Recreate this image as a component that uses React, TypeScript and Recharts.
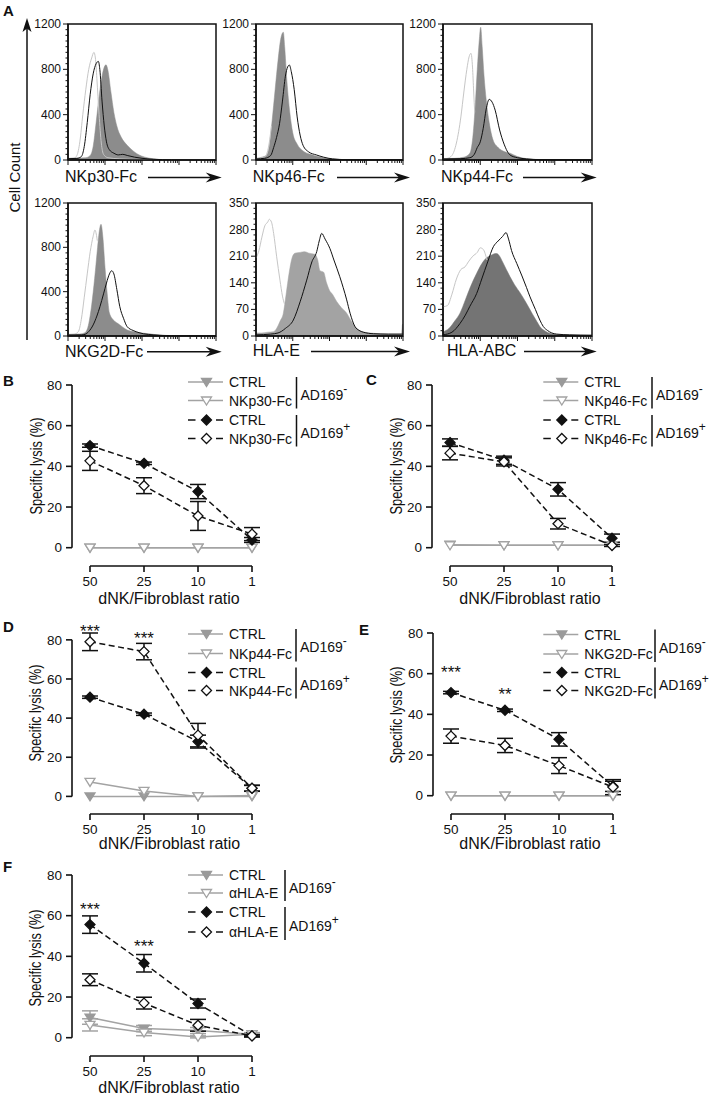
import React from 'react';
import {
  ComposedChart,
  LineChart,
  Line,
  Area,
  XAxis,
  YAxis,
  ErrorBar,
  ReferenceLine,
  ReferenceArea,
  ReferenceDot,
} from 'recharts';

const FONT = "'Liberation Sans', Arial, Helvetica, sans-serif";
const INK = '#111';
const GRAY = '#a3a3a3';
const GRAY_FILL = '#9a9a9a';
const LIGHT = '#c6c6c6';

// ---------- Panel A: histograms (x = % of a 4-decade log axis, y = cell count) ----------
const nkp30Light = [[0, 12], [4, 15], [6, 40], [8, 160], [10, 400], [12, 620], [14, 800], [16, 900], [17.5, 950], [18.5, 900], [19.5, 720], [21, 400], [22.5, 150], [24, 50], [27, 20], [35, 10], [50, 4], [100, 2]];
const nkp30Fill = [[0, 15], [6, 18], [12, 20], [15, 40], [17, 120], [19, 330], [21, 560], [23, 740], [24.5, 820], [25.7, 840], [27, 790], [29, 600], [31, 420], [33, 300], [36, 200], [40, 130], [44, 80], [48, 45], [52, 25], [58, 10], [65, 3], [80, 2], [100, 2]];
const nkp30Black = [[0, 12], [6, 14], [9, 30], [11, 120], [13, 330], [15, 580], [17, 760], [19, 850], [20.5, 870], [21.5, 800], [23, 520], [24.5, 300], [26, 160], [28, 90], [31, 60], [34, 45], [37, 50], [40, 40], [45, 25], [50, 15], [58, 6], [70, 2], [100, 1]];

const nkp46Light = [[0, 12], [5, 20], [7, 45], [9, 150], [10.5, 300]];
const nkp46Fill = [[0, 15], [4, 25], [7, 40], [9, 120], [11, 350], [13, 620], [15, 880], [17, 1080], [18.6, 1127], [19.5, 1000], [21, 700], [23, 420], [25, 240], [28, 140], [32, 80], [37, 50], [42, 30], [48, 15], [55, 6], [65, 2], [100, 1]];
const nkp46Black = [[0, 10], [6, 15], [10, 40], [12, 110], [14, 200], [16, 320], [18, 520], [20, 740], [21.5, 820], [22.7, 838], [24, 780], [26, 620], [28, 380], [30, 220], [32, 130], [36, 70], [41, 45], [46, 25], [52, 10], [62, 3], [100, 1]];

const nkp44Light = [[0, 10], [3, 15], [6, 40], [9, 150], [12, 380], [14, 600], [16, 800], [17.5, 910], [18.8, 941], [19.8, 820], [20.6, 600], [21.3, 420]];
const nkp44Fill = [[0, 12], [8, 15], [14, 25], [18, 60], [20, 200], [21.5, 450], [23, 800], [24.3, 1050], [25.3, 1171], [26.3, 1000], [27.5, 750], [29, 530], [31, 330], [33.6, 176], [37, 110], [41, 75], [45, 60], [50, 30], [56, 12], [65, 4], [100, 2]];
const nkp44Black = [[0, 10], [12, 12], [18, 20], [21, 50], [23, 110], [25, 160], [27, 280], [29, 450], [31, 535], [33, 510], [35, 440], [38, 265], [41, 140], [45, 44], [50, 20], [56, 10], [65, 3], [100, 1]];

const nkg2dLight = [[0, 12], [4, 15], [7, 40], [9, 150], [11, 350], [13, 560], [15, 760], [17, 900], [18.2, 956], [19.1, 920], [19.8, 860]];
const nkg2dFill = [[0, 15], [8, 18], [11.5, 30], [14, 110], [16, 280], [18, 520], [20, 800], [21.3, 960], [22.3, 1008], [23.5, 900], [25, 620], [26.5, 380], [28, 207], [31, 140], [34, 110], [37, 80], [40, 54], [44, 40], [48, 30], [55, 20], [62, 8], [75, 3], [100, 2]];
const nkg2dBlack = [[0, 10], [9, 10], [11.5, 15], [14, 40], [17, 100], [19.5, 180], [21.6, 265], [24, 380], [26, 478], [28, 560], [29.5, 589], [31, 560], [33, 420], [35, 265], [37.5, 160], [40, 84], [44, 50], [48, 30], [51, 20], [58, 10], [70, 3], [100, 1]];

const hlaELight = [[0, 205], [2, 225], [4, 260], [6, 290], [8, 300], [9, 307], [10.5, 300], [12, 270], [14, 210], [16.3, 147], [18, 105], [19.3, 85]];
const hlaEFill = [[0, 8], [4, 8], [8, 10], [11.8, 11], [14, 20], [16.5, 40], [18.6, 60], [20.5, 110], [22.5, 165], [24.5, 205], [26.5, 218], [30, 220], [33, 222], [36, 218], [40, 215], [42, 200], [43.5, 172], [46, 168], [48, 140], [50, 120], [52, 110], [55, 90], [58, 75], [61.7, 60], [65, 38], [68.5, 20], [72, 12], [77.5, 8], [85, 6], [95, 5], [99, 5], [99.6, 30], [100, 32]];
const hlaEBlack = [[0, 3], [10, 5], [15, 8], [20, 20], [25.4, 42], [30, 90], [34.5, 147], [38, 195], [41.3, 222], [43, 250], [44.7, 270], [47, 255], [50.3, 230], [53, 200], [57, 156], [61.7, 95], [64, 60], [67.3, 25], [70, 15], [73, 10], [80, 6], [90, 5], [100, 5]];

const hlaAbcLight = [[0, 77], [3, 80], [6, 110], [9, 150], [12, 175], [14.8, 182], [17, 195], [20, 210], [23, 220], [25, 232], [27, 228], [29.5, 200]];
const hlaAbcFill = [[0, 11], [4, 20], [8, 40], [11.4, 60], [15, 95], [18.5, 130], [22.6, 165], [26, 190], [29, 205], [32, 212], [34, 216], [36, 217], [38, 210], [40, 195], [42.5, 175], [45, 156], [48, 135], [52, 112], [56, 86], [60, 58], [63, 38], [65, 25], [69, 12], [74, 5], [80, 3], [100, 2]];
const hlaAbcBlack = [[0, 3], [6, 10], [11.4, 33], [15, 55], [18, 78], [22.6, 112], [26, 150], [30, 195], [33.8, 235], [37, 250], [40, 262], [42.3, 272], [44, 255], [46, 225], [49.5, 191], [53, 158], [56, 128], [58.4, 103], [62, 70], [65, 42], [67.3, 25], [70, 15], [73, 8], [76.3, 5], [85, 3], [100, 2]];

// ---------- Panels B-F: specific lysis (%) ----------
const RATIOS = ['50', '25', '10', '1'];

const bCtrlNeg = [0, 0, 0, 0];
const bFcNeg = [0, 0, 0, 0];
const bCtrlPos = [50.2, 41.5, 27.6, 3.8];
const bCtrlPosErr = [0.8, 0.6, 3.5, 1.2];
const bFcPos = [42.7, 30.5, 15.6, 6.7];
const bFcPosErr = [4.7, 3.9, 7.1, 3.2];

const cCtrlNeg = [1.5, 1.2, 1.2, 1.2];
const cFcNeg = [1.2, 1.2, 1.2, 1.2];
const cCtrlPos = [51.7, 43, 28.7, 4.7];
const cCtrlPosErr = [1.8, 2, 3.3, 2];
const cFcPos = [46.5, 42.2, 11.8, 1.1];
const cFcPosErr = [3.3, 2, 2.6, 0.5];

const dCtrlNeg = [0, 0, 0, 0];
const dFcNeg = [7.4, 2.8, 0, 0.5];
const dCtrlPos = [50.7, 42, 28, 4.1];
const dCtrlPosErr = [0.6, 0.6, 3.3, 1.5];
const dFcPos = [79, 74, 31.3, 4.2];
const dFcPosErr = [4.5, 4.2, 6, 1.5];
const dStars = [{ i: 0, y: 86.4, t: '***' }, { i: 1, y: 83.1, t: '***' }];

const eCtrlNeg = [0, 0, 0, 0];
const eFcNeg = [0, 0, 0, 0];
const eCtrlPos = [50.7, 42, 27.7, 4.6];
const eCtrlPosErr = [0.6, 0.6, 3.3, 2.5];
const eFcPos = [29.3, 24.7, 14.8, 4.2];
const eFcPosErr = [3.5, 3.5, 3.9, 3.7];
const eStars = [{ i: 0, y: 62.6, t: '***' }, { i: 1, y: 51.9, t: '**' }];

const fCtrlNeg = [9.9, 4.5, 3.5, 1.7];
const fCtrlNegErr = [3.3, 1.5, 1.5, 0.8];
const fFcNeg = [6.3, 2.5, 0.4, 1.7];
const fFcNegErr = [3, 1.5, 0.5, 0.5];
const fCtrlPos = [55.6, 36.6, 16.8, 0.9];
const fCtrlPosErr = [4.3, 4.3, 2.2, 0.5];
const fFcPos = [28.5, 17, 6.1, 0.9];
const fFcPosErr = [2.9, 2.9, 2.9, 0.5];
const fStars = [{ i: 0, y: 65.2, t: '***' }, { i: 1, y: 47, t: '***' }];

// ---------- helpers ----------
type P = number[];
function histRows(light: P[], fill: P[], black: P[]) {
  const map = new Map<number, any>();
  const add = (arr: P[], key: string) =>
    arr.forEach(([x, y]) => {
      const r = map.get(x) ?? { x };
      r[key] = y;
      map.set(x, r);
    });
  add(light, 'light');
  add(fill, 'fill');
  add(black, 'black');
  return Array.from(map.values()).sort((a, b) => a.x - b.x);
}

const LOG_DECADES = [0, 25, 50, 75, 100];
const LOG_TICKS = [
  ...LOG_DECADES,
  ...[0, 1, 2, 3].flatMap((d) => [2, 3, 4, 5, 6, 7, 8, 9].map((k) => 25 * (d + Math.log10(k)))),
].sort((a, b) => a - b);

const xLogTick = (p: any) => {
  const v = p.payload.value;
  const major = LOG_DECADES.some((d) => Math.abs(d - v) < 1e-6);
  return (
    <line key={`xt${v}`} x1={p.x} x2={p.x} y1={p.y} y2={p.y + (major ? 5 : 3)} stroke={INK} strokeWidth={1} />
  );
};

const yCountTick = (majorStep: number) => (p: any) => {
  const v = p.payload.value;
  const major = Math.abs(v / majorStep - Math.round(v / majorStep)) < 1e-6;
  return (
    <g key={`yt${v}`}>
      <line x1={p.x - (major ? 5 : 2.5)} x2={p.x} y1={p.y} y2={p.y} stroke={INK} strokeWidth={1} />
      {major && (
        <text x={p.x - 7} y={p.y} textAnchor="end" dominantBaseline="central" fontSize={12} fill={INK} fontFamily={FONT}>
          {v}
        </text>
      )}
    </g>
  );
};

function Histogram(props: any) {
  const { plotLeft, plotTop, plotW, plotH, yMax, majorStep, minorStep, light, fill, black, fillColor } = props;
  const ML = 48, MT = 12, MR = 12, MB = 14;
  const rows = histRows(light, fill, black);
  const yTicks: number[] = [];
  for (let v = 0; v <= yMax + 1e-9; v += minorStep) yTicks.push(Math.round(v * 100) / 100);
  return (
    <div style={{ position: 'absolute', left: plotLeft - ML, top: plotTop - MT }}>
      <ComposedChart width={plotW + ML + MR} height={plotH + MT + MB} data={rows} margin={{ top: MT, right: MR, bottom: 0, left: 0 }}>
        <XAxis type="number" dataKey="x" domain={[0, 100]} ticks={LOG_TICKS} tick={xLogTick} tickLine={false} tickSize={0} tickMargin={0} interval={0} height={MB} axisLine={{ stroke: INK, strokeWidth: 1.5 }} />
        <YAxis type="number" domain={[0, yMax]} ticks={yTicks} tick={yCountTick(majorStep)} tickLine={false} tickSize={0} tickMargin={0} interval={0} width={ML} axisLine={{ stroke: INK, strokeWidth: 1.5 }} />
        <Line type="monotone" dataKey="light" stroke={LIGHT} strokeWidth={1} dot={false} activeDot={false} connectNulls isAnimationActive={false} />
        <Area type="monotone" dataKey="fill" stroke={fillColor} strokeWidth={0.5} fill={fillColor} fillOpacity={1} dot={false} activeDot={false} connectNulls isAnimationActive={false} />
        <Line type="monotone" dataKey="black" stroke={INK} strokeWidth={1} dot={false} activeDot={false} connectNulls isAnimationActive={false} />
        <ReferenceArea x1={0} x2={100} y1={0} y2={yMax} fill="none" fillOpacity={0} stroke={INK} strokeWidth={1.5} ifOverflow="visible" />
      </ComposedChart>
    </div>
  );
}

// markers
const triPath = (cx: number, cy: number) => `M${cx - 5},${cy - 3.5}L${cx + 5},${cy - 3.5}L${cx},${cy + 4.5}Z`;
const diaPath = (cx: number, cy: number) => `M${cx},${cy - 5}L${cx + 5},${cy}L${cx},${cy + 5}L${cx - 5},${cy}Z`;

const makeDot = (kind: 'tri' | 'dia', fill: string, stroke: string) => (p: any) => {
  if (p.cx == null || p.cy == null || p.value == null) return <g key={`e${kind}${fill}${p.index}`} />;
  const d = kind === 'tri' ? triPath(p.cx, p.cy) : diaPath(p.cx, p.cy);
  return <path key={`m${kind}${fill}${p.index}`} d={d} fill={fill} stroke={stroke} strokeWidth={1.3} />;
};

const starShape = (t: string) => (p: any) => (
  <text x={p.cx} y={p.cy + 10} textAnchor="middle" fontSize={17} fill={INK} fontFamily={FONT}>
    {t}
  </text>
);

function LysisPanel(props: any) {
  const { left, top, ctrlNeg, ctrlNegErr, fcNeg, fcNegErr, ctrlPos, ctrlPosErr, fcPos, fcPosErr, stars } = props;
  const rows = RATIOS.map((_, i) => ({
    i,
    ctrlNeg: ctrlNeg[i],
    ctrlNegErr: ctrlNegErr ? ctrlNegErr[i] : 0,
    fcNeg: fcNeg[i],
    fcNegErr: fcNegErr ? fcNegErr[i] : 0,
    ctrlPos: ctrlPos[i],
    ctrlPosErr: ctrlPosErr[i],
    fcPos: fcPos[i],
    fcPosErr: fcPosErr[i],
  }));
  const axisStroke = { stroke: INK, strokeWidth: 1.6 };
  const tickStyle = { fontSize: 13.5, fill: INK, fontFamily: FONT };
  return (
    <div style={{ position: 'absolute', left, top }}>
      <LineChart width={360} height={221} data={rows} margin={{ top: 15, right: 108, bottom: 0, left: 12 }}>
        <XAxis type="number" dataKey="i" domain={[-1 / 3, 3]} ticks={[0, 1, 2, 3]} tickFormatter={(v: number) => RATIOS[v]} axisLine={false} tickLine={axisStroke} tickSize={6} tickMargin={4} height={25} tick={tickStyle} interval={0} />
        <YAxis type="number" domain={[-9, 80]} ticks={[0, 20, 40, 60, 80]} axisLine={false} tickLine={axisStroke} tickSize={6} tickMargin={4} width={60} tick={tickStyle} interval={0} />
        <ReferenceLine segment={[{ x: -1 / 3, y: 0 }, { x: -1 / 3, y: 80 }]} stroke={INK} strokeWidth={1.6} ifOverflow="visible" />
        <ReferenceLine segment={[{ x: 0, y: -9 }, { x: 3, y: -9 }]} stroke={INK} strokeWidth={1.6} ifOverflow="visible" />
        <Line type="linear" dataKey="ctrlNeg" stroke={GRAY} strokeWidth={1.5} dot={makeDot('tri', GRAY_FILL, GRAY_FILL)} activeDot={false} isAnimationActive={false}>
          {ctrlNegErr && <ErrorBar dataKey="ctrlNegErr" width={8} stroke={GRAY} strokeWidth={1.5} direction="y" />}
        </Line>
        <Line type="linear" dataKey="fcNeg" stroke={GRAY} strokeWidth={1.5} dot={makeDot('tri', '#fff', GRAY)} activeDot={false} isAnimationActive={false}>
          {fcNegErr && <ErrorBar dataKey="fcNegErr" width={8} stroke={GRAY} strokeWidth={1.5} direction="y" />}
        </Line>
        <Line type="linear" dataKey="ctrlPos" stroke={INK} strokeWidth={1.5} strokeDasharray="6 3.5" dot={makeDot('dia', INK, INK)} activeDot={false} isAnimationActive={false}>
          <ErrorBar dataKey="ctrlPosErr" width={8} stroke={INK} strokeWidth={1.5} direction="y" />
        </Line>
        <Line type="linear" dataKey="fcPos" stroke={INK} strokeWidth={1.5} strokeDasharray="6 3.5" dot={makeDot('dia', '#fff', INK)} activeDot={false} isAnimationActive={false}>
          <ErrorBar dataKey="fcPosErr" width={8} stroke={INK} strokeWidth={1.5} direction="y" />
        </Line>
        {(stars || []).map((s: any) => (
          <ReferenceDot key={`s${s.i}`} x={s.i} y={s.y} r={0} ifOverflow="visible" shape={starShape(s.t)} />
        ))}
      </LineChart>
    </div>
  );
}

// ---------- overlay pieces ----------
function Arrow({ x1, x2, y }: { x1: number; x2: number; y: number }) {
  return (
    <g>
      <line x1={x1} x2={x2 - 10} y1={y} y2={y} stroke={INK} strokeWidth={1.5} />
      <path d={`M${x2},${y}L${x2 - 16},${y - 5}L${x2 - 11},${y}L${x2 - 16},${y + 5}Z`} fill={INK} />
    </g>
  );
}

function Legend({ x0, rows, fc, barX }: { x0: number; rows: number[]; fc: string; barX: number }) {
  const [r1, r2, r3, r4] = rows;
  const mx = x0 + 18.5;
  const tx = x0 + 41;
  const dash = (y: number) => (
    <g>
      <line x1={x0} x2={x0 + 7.5} y1={y} y2={y} stroke={INK} strokeWidth={1.5} />
      <line x1={x0 + 28} x2={x0 + 35} y1={y} y2={y} stroke={INK} strokeWidth={1.5} />
    </g>
  );
  const b1 = [r1 - 5, r2 + 8];
  const b2 = [r3 - 5, r4 + 8];
  return (
    <g fontFamily={FONT} fontSize={14} fill={INK}>
      <line x1={x0} x2={x0 + 35} y1={r1} y2={r1} stroke={GRAY} strokeWidth={1.5} />
      <path d={triPath(mx, r1)} fill={GRAY_FILL} stroke={GRAY_FILL} strokeWidth={1.3} />
      <text x={tx} y={r1} dominantBaseline="central">CTRL</text>
      <line x1={x0} x2={x0 + 35} y1={r2} y2={r2} stroke={GRAY} strokeWidth={1.5} />
      <path d={triPath(mx, r2)} fill="#fff" stroke={GRAY} strokeWidth={1.3} />
      <text x={tx} y={r2} dominantBaseline="central">{fc}</text>
      {dash(r3)}
      <path d={diaPath(mx, r3)} fill={INK} stroke={INK} strokeWidth={1.3} />
      <text x={tx} y={r3} dominantBaseline="central">CTRL</text>
      {dash(r4)}
      <path d={diaPath(mx, r4)} fill="#fff" stroke={INK} strokeWidth={1.3} />
      <text x={tx} y={r4} dominantBaseline="central">{fc}</text>
      <line x1={barX} x2={barX} y1={b1[0]} y2={b1[1]} stroke={INK} strokeWidth={1.5} />
      <line x1={barX} x2={barX} y1={b2[0]} y2={b2[1]} stroke={INK} strokeWidth={1.5} />
      <text x={barX + 4} y={(b1[0] + b1[1]) / 2 + 2} dominantBaseline="central">
        AD169<tspan dy={-6} fontSize={12}>-</tspan>
      </text>
      <text x={barX + 4} y={(b2[0] + b2[1]) / 2 + 2} dominantBaseline="central">
        AD169<tspan dy={-6} fontSize={12}>+</tspan>
      </text>
    </g>
  );
}

function YTitle({ x, y }: { x: number; y: number }) {
  return (
    <text x={x} y={y} transform={`rotate(-90 ${x} ${y})`} textAnchor="middle" dominantBaseline="central" fontSize={16} textLength={97} lengthAdjust="spacingAndGlyphs" fill={INK} fontFamily={FONT}>
      Specific lysis (%)
    </text>
  );
}

function XTitle({ x, y }: { x: number; y: number }) {
  return (
    <text x={x} y={y} textAnchor="middle" dominantBaseline="central" fontSize={16} fill={INK} fontFamily={FONT}>
      dNK/Fibroblast ratio
    </text>
  );
}

function PanelLetter({ x, y, t }: { x: number; y: number; t: string }) {
  return (
    <text x={x} y={y} fontSize={15} fontWeight="bold" fill={INK} fontFamily={FONT}>
      {t}
    </text>
  );
}

export default function App() {
  return (
    <div style={{ position: 'absolute', left: 0, top: 0, width: 712, height: 1095, background: '#fff', overflow: 'hidden', fontFamily: FONT }}>
      {/* Panel A */}
      <Histogram plotLeft={68} plotTop={24} plotW={148} plotH={136} yMax={1200} majorStep={400} minorStep={50} light={nkp30Light} fill={nkp30Fill} black={nkp30Black} fillColor="#8c8c8c" />
      <Histogram plotLeft={256} plotTop={24} plotW={147} plotH={136} yMax={1200} majorStep={400} minorStep={50} light={nkp46Light} fill={nkp46Fill} black={nkp46Black} fillColor="#8c8c8c" />
      <Histogram plotLeft={443} plotTop={24} plotW={149} plotH={136} yMax={1200} majorStep={400} minorStep={50} light={nkp44Light} fill={nkp44Fill} black={nkp44Black} fillColor="#8c8c8c" />
      <Histogram plotLeft={68} plotTop={203} plotW={148} plotH={133} yMax={1200} majorStep={400} minorStep={50} light={nkg2dLight} fill={nkg2dFill} black={nkg2dBlack} fillColor="#8c8c8c" />
      <Histogram plotLeft={256} plotTop={203} plotW={147} plotH={133} yMax={350} majorStep={70} minorStep={14} light={hlaELight} fill={hlaEFill} black={hlaEBlack} fillColor="#a3a3a3" />
      <Histogram plotLeft={443} plotTop={203} plotW={149} plotH={133} yMax={350} majorStep={70} minorStep={14} light={hlaAbcLight} fill={hlaAbcFill} black={hlaAbcBlack} fillColor="#747474" />

      {/* Panels B-F */}
      <LysisPanel left={0} top={370} ctrlNeg={bCtrlNeg} fcNeg={bFcNeg} ctrlPos={bCtrlPos} ctrlPosErr={bCtrlPosErr} fcPos={bFcPos} fcPosErr={bFcPosErr} />
      <LysisPanel left={360} top={370} ctrlNeg={cCtrlNeg} fcNeg={cFcNeg} ctrlPos={cCtrlPos} ctrlPosErr={cCtrlPosErr} fcPos={cFcPos} fcPosErr={cFcPosErr} />
      <LysisPanel left={0} top={618} ctrlNeg={dCtrlNeg} fcNeg={dFcNeg} ctrlPos={dCtrlPos} ctrlPosErr={dCtrlPosErr} fcPos={dFcPos} fcPosErr={dFcPosErr} stars={dStars} />
      <LysisPanel left={361} top={618} ctrlNeg={eCtrlNeg} fcNeg={eFcNeg} ctrlPos={eCtrlPos} ctrlPosErr={eCtrlPosErr} fcPos={eFcPos} fcPosErr={eFcPosErr} stars={eStars} />
      <LysisPanel left={0} top={860} ctrlNeg={fCtrlNeg} ctrlNegErr={fCtrlNegErr} fcNeg={fFcNeg} fcNegErr={fFcNegErr} ctrlPos={fCtrlPos} ctrlPosErr={fCtrlPosErr} fcPos={fFcPos} fcPosErr={fFcPosErr} stars={fStars} />

      <svg width={712} height={1095} style={{ position: 'absolute', left: 0, top: 0, pointerEvents: 'none' }}>
        {/* Panel A annotations */}
        <PanelLetter x={3} y={16} t="A" />
        <line x1={27} x2={27} y1={28} y2={340} stroke={INK} strokeWidth={1.5} />
        <path d="M27,18L22.5,32L27,28.5L31.5,32Z" fill={INK} />
        <text x={14} y={177.5} transform="rotate(-90 14 177.5)" textAnchor="middle" dominantBaseline="central" fontSize={15} fill={INK} fontFamily={FONT}>
          Cell Count
        </text>
        <g fontFamily={FONT} fontSize={16} fill={INK}>
          <text x={65} y={176.5} dominantBaseline="central">NKp30-Fc</text>
          <text x={252.7} y={176.5} dominantBaseline="central">NKp46-Fc</text>
          <text x={441} y={176.5} dominantBaseline="central">NKp44-Fc</text>
          <text x={65} y={351} dominantBaseline="central">NKG2D-Fc</text>
          <text x={252.7} y={350.5} dominantBaseline="central">HLA-E</text>
          <text x={447} y={350.5} dominantBaseline="central">HLA-ABC</text>
        </g>
        <Arrow x1={148} x2={221.7} y={177.5} />
        <Arrow x1={337} x2={410} y={177.5} />
        <Arrow x1={523} x2={596.7} y={177.5} />
        <Arrow x1={147} x2={221.7} y={351.7} />
        <Arrow x1={311} x2={410} y={351.5} />
        <Arrow x1={524} x2={596.7} y={351.5} />

        {/* Panel letters */}
        <PanelLetter x={3} y={386} t="B" />
        <PanelLetter x={366} y={385} t="C" />
        <PanelLetter x={3} y={632} t="D" />
        <PanelLetter x={359} y={635} t="E" />
        <PanelLetter x={3} y={872} t="F" />

        {/* Axis titles */}
        <YTitle x={36} y={466} />
        <YTitle x={396} y={466} />
        <YTitle x={35} y={713} />
        <YTitle x={396} y={715} />
        <YTitle x={35} y={958} />
        <XTitle x={169} y={598} />
        <XTitle x={530} y={598} />
        <XTitle x={169.5} y={843} />
        <XTitle x={530} y={843} />
        <XTitle x={169} y={1087} />

        {/* Legends */}
        <Legend x0={188} rows={[382, 400.5, 420, 438.5]} fc="NKp30-Fc" barX={296.5} />
        <Legend x0={543.3} rows={[382, 400.5, 420, 438.5]} fc="NKp46-Fc" barX={652} />
        <Legend x0={188} rows={[634, 653.5, 672.5, 690.5]} fc="NKp44-Fc" barX={296} />
        <Legend x0={543.3} rows={[634.5, 654, 672.5, 690.5]} fc="NKG2D-Fc" barX={655} />
        <Legend x0={188} rows={[875, 893, 912, 932]} fc="αHLA-E" barX={285} />
      </svg>
    </div>
  );
}
